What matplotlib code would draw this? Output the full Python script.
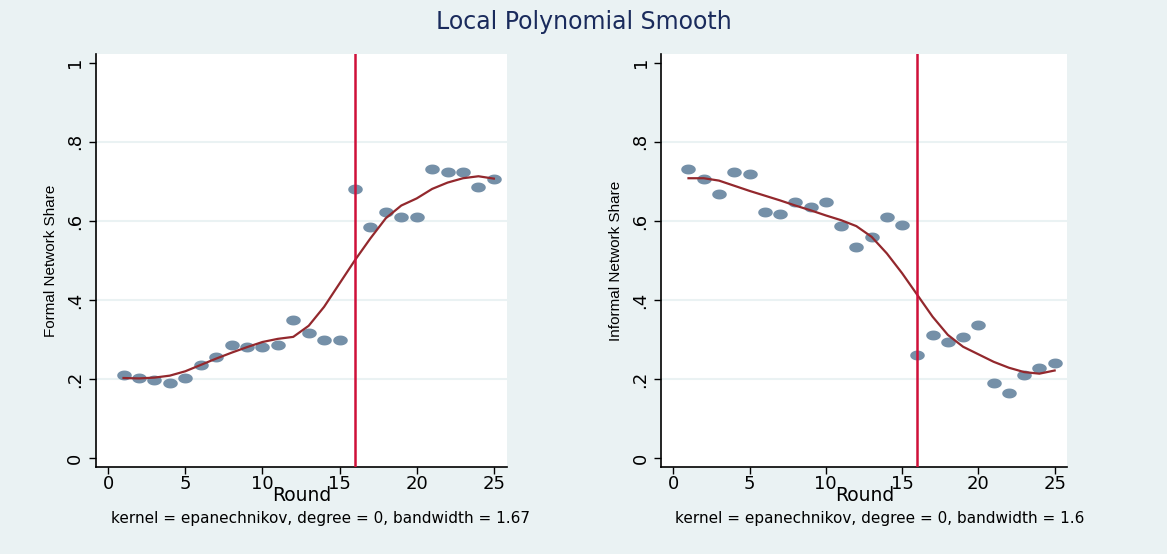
import numpy as np
import matplotlib
matplotlib.use("Agg")
import matplotlib.pyplot as plt
from matplotlib.path import Path

# rounds 1..25
rounds = list(range(1, 26))

formal_share = [0.210, 0.204, 0.197, 0.191, 0.204, 0.236, 0.255, 0.286, 0.281, 0.281,
                0.286, 0.350, 0.318, 0.299, 0.299, 0.681, 0.585, 0.623, 0.611, 0.611,
                0.732, 0.725, 0.725, 0.687, 0.707]
formal_smooth = [0.203, 0.202, 0.204, 0.209, 0.220, 0.236, 0.252, 0.267, 0.281, 0.294,
                 0.302, 0.307, 0.335, 0.383, 0.442, 0.501, 0.556, 0.607, 0.639, 0.657,
                 0.681, 0.697, 0.708, 0.713, 0.707]

informal_share = [0.731, 0.706, 0.668, 0.725, 0.719, 0.623, 0.618, 0.649, 0.636, 0.649,
                  0.586, 0.534, 0.560, 0.611, 0.591, 0.261, 0.312, 0.293, 0.306, 0.337,
                  0.190, 0.166, 0.210, 0.229, 0.242]
informal_smooth = [0.708, 0.708, 0.702, 0.689, 0.676, 0.664, 0.652, 0.639, 0.627, 0.614,
                   0.602, 0.587, 0.560, 0.518, 0.468, 0.413, 0.358, 0.312, 0.282, 0.263,
                   0.244, 0.229, 0.218, 0.214, 0.222]

cutoff = 16
yticks = [0, 0.2, 0.4, 0.6, 0.8, 1]
ytick_labels = ["0", ".2", ".4", ".6", ".8", "1"]
xticks = [0, 5, 10, 15, 20, 25]

bg = "#eaf2f3"
dot_col = "#7590a8"
line_col = "#93282d"
vline_col = "#cf1039"

# wide ellipse marker (the original picture is stretched sideways)
t = np.linspace(0, 2 * np.pi, 40)
ell = Path(np.column_stack([np.cos(t), 0.68 * np.sin(t)]), closed=True)

fig = plt.figure(figsize=(11.67, 5.54), dpi=100, facecolor=bg)

fig.text(0.5, 1 - 22 / 554, "Local Polynomial Smooth", ha="center", va="center",
         fontsize=17, color="#1a2b5c", family="DejaVu Sans")

panels = [
    (0.0823, 0.352, formal_share, formal_smooth, "Formal Network Share",
     "kernel = epanechnikov, degree = 0, bandwidth = 1.67", 111),
    (0.5667, 0.348, informal_share, informal_smooth, "Informal Network Share",
     "kernel = epanechnikov, degree = 0, bandwidth = 1.6", 675),
]

for x0, w, pts, smooth, ylab, note, note_x in panels:
    ax = fig.add_axes([x0, 0.157, w, 0.7455])
    ax.set_facecolor("white")
    for yv in [0.2, 0.4, 0.6, 0.8]:
        ax.axhline(yv, color=bg, lw=1.5, zorder=0)
    ax.scatter(rounds, pts, marker=ell, s=110, color=dot_col, zorder=3, linewidths=0)
    ax.plot(rounds, smooth, color=line_col, lw=1.6, zorder=4)
    ax.axvline(cutoff, color=vline_col, lw=1.8, zorder=5)

    ax.set_xlim(-0.78, 25.84)
    ax.set_ylim(-0.022, 1.022)
    ax.set_xticks(xticks)
    ax.set_yticks(yticks)
    ax.set_yticklabels(ytick_labels, rotation=90, va="center")
    ax.tick_params(direction="out", length=5, width=1, labelsize=13, colors="black")
    ax.tick_params(axis="x", pad=1)
    for s in ["top", "right"]:
        ax.spines[s].set_visible(False)
    for s in ["left", "bottom"]:
        ax.spines[s].set_linewidth(1.2)
        ax.spines[s].set_color("black")
    ax.set_xlabel("Round", fontsize=13.5, labelpad=-5)
    ax.set_ylabel(ylab, fontsize=11, family="Liberation Sans", labelpad=6)

    fig.text(note_x / 1167, 1 - 518 / 554, note, ha="left", va="center", fontsize=11)

fig.savefig("out.png", dpi=100, facecolor=bg)
